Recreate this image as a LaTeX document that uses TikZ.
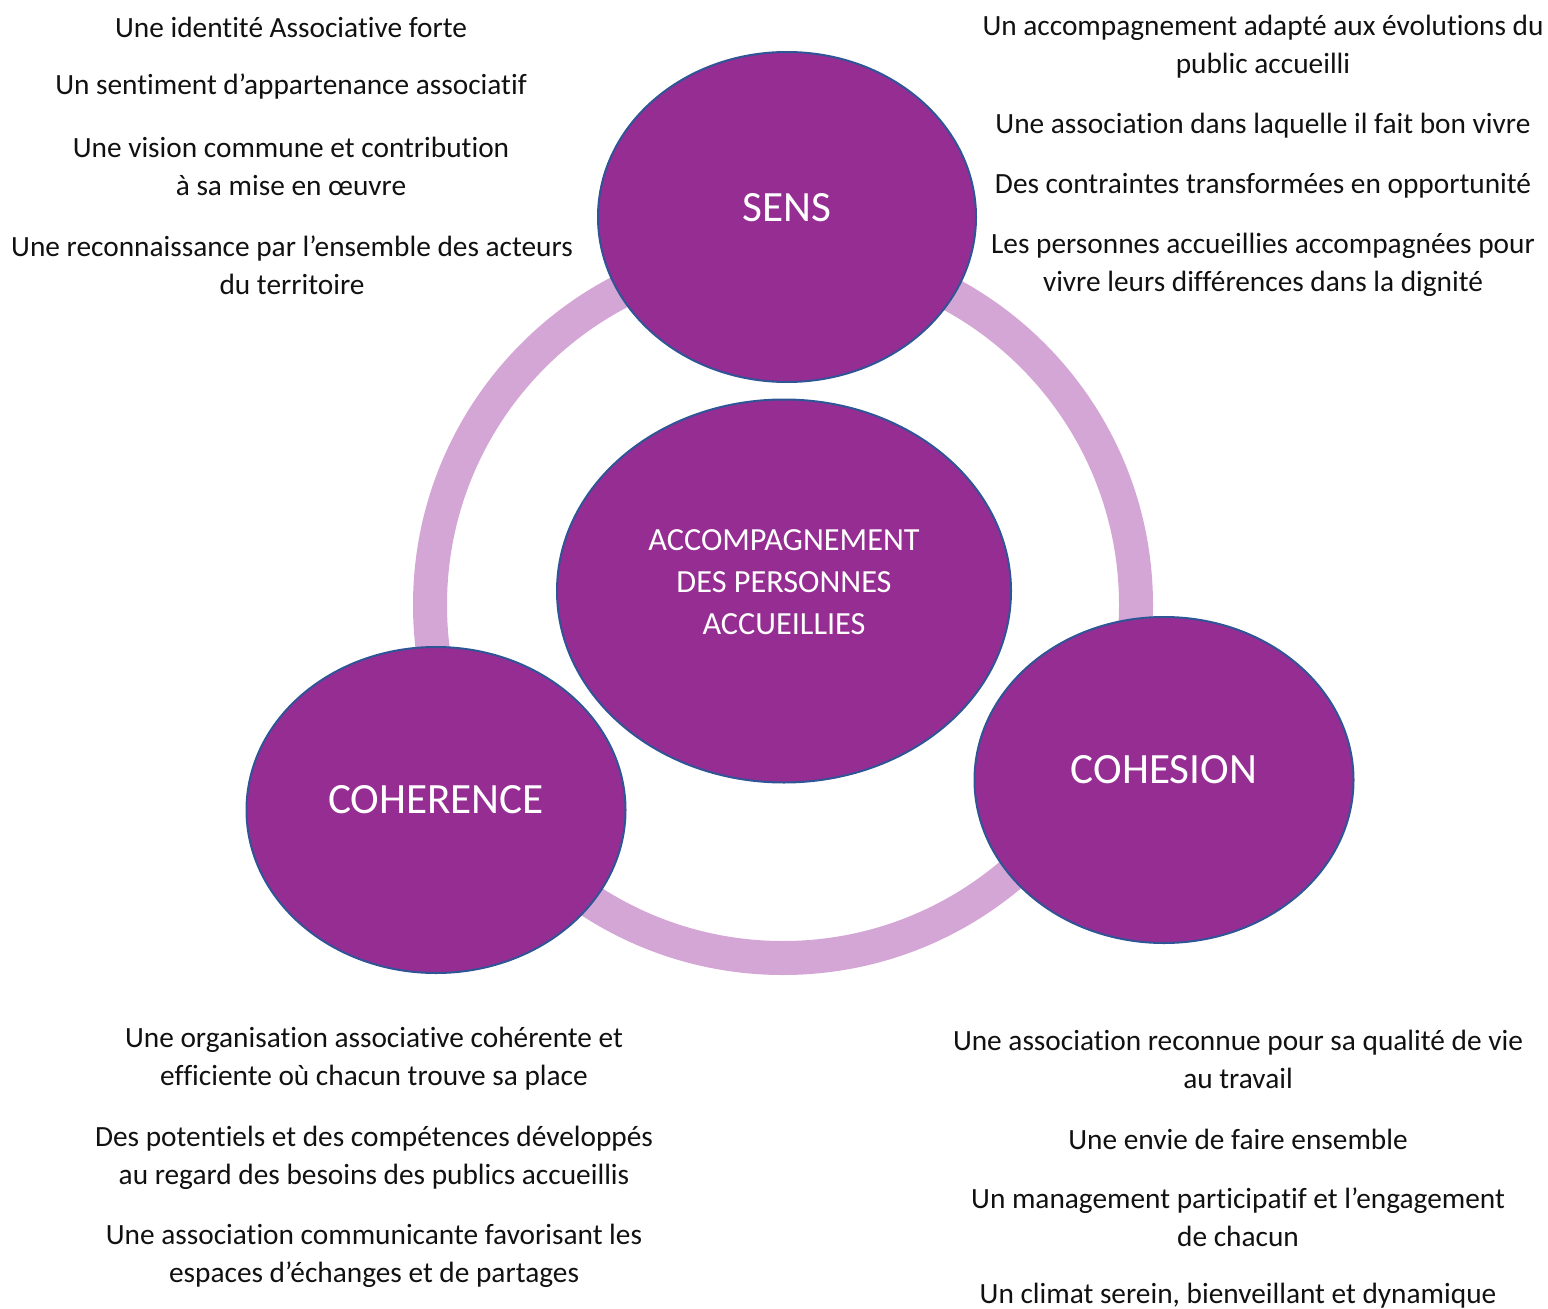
\documentclass[tikz,border=0pt]{standalone}
\usepackage{fontspec}
\setmainfont{Carlito}[Ligatures=NoCommon]
\usetikzlibrary{shapes.geometric}
\definecolor{pillar}{HTML}{952D93}
\definecolor{rim}{HTML}{2F5597}
\definecolor{ring}{HTML}{D4A6D6}
\definecolor{ink}{HTML}{111111}
\tikzset{
  every node/.style={text=ink},
  goal/.style={align=center,font=\fontsize{11}{14.25}\selectfont,inner sep=0pt},
  pillar/.style={ellipse,fill=pillar,draw=rim,line width=.75pt,inner sep=0pt,
    text=white,font=\fontsize{16.2}{20}\selectfont},
  title/.style={text=white,font=\fontsize{16.2}{20}\selectfont},
  core/.style={pillar,align=center,font=\fontsize{12.1}{15.75}\selectfont},
  loop/.style={draw=ring,line width=12.75pt}
}

\begin{document}
\begin{tikzpicture}[x=.375pt,y=-.375pt]
  \useasboundingbox (0,0) rectangle (1548,1309);
  % Ring linking the three pillars.
  \draw[loop] (783,605) circle (353);

  % Pillars and centre.
  \node[core,minimum width=454*.375pt,minimum height=383*.375pt] (centre) at (784,591) {};
  \node[title,align=center,font=\fontsize{12.1}{15.75}\selectfont] (centrelbl) at (784,582)
    {ACCOMPAGNEMENT\\DES PERSONNES\\ACCUEILLIES};
  \node[pillar,minimum width=378*.375pt,minimum height=330*.375pt] (sens) at (787,217) {};
  \node[title] (senslbl) at (787,208) {SENS};
  \node[pillar,minimum width=379*.375pt,minimum height=326*.375pt] (coherence) at (436,810) {};
  \node[title] (coherencelbl) at (436,800) {COHERENCE};
  \node[pillar,minimum width=379*.375pt,minimum height=326*.375pt] (cohesion) at (1164,780) {};
  \node[title] (cohesionlbl) at (1164,770) {COHESION};

  % Goals for SENS, left.
  \node[goal] (tl1) at (291,27) {Une identité Associative forte};
  \node[goal] (tl2) at (291,87) {Un sentiment d’appartenance associatif};
  \node[goal] (tl3) at (291,166) {Une vision commune et contribution\\à sa mise en œuvre};
  \node[goal] (tl4) at (292,265) {Une reconnaissance par l’ensemble des acteurs\\du territoire};

  % Goals for SENS, right.
  \node[goal] (tr1) at (1263,47) {Un accompagnement adapté aux évolutions du\\public accueilli};
  \node[goal] (tr2) at (1263,126) {Une association dans laquelle il fait bon vivre};
  \node[goal] (tr3) at (1263,186) {Des contraintes transformées en opportunité};
  \node[goal] (tr4) at (1263,265) {Les personnes accueillies accompagnées pour\\vivre leurs différences dans la dignité};

  % Goals for COHERENCE.
  \node[goal] (bl1) at (374,1059) {Une organisation associative cohérente et\\efficiente où chacun trouve sa place};
  \node[goal] (bl2) at (374,1158) {Des potentiels et des compétences développés\\au regard des besoins des publics accueillis};
  \node[goal] (bl3) at (374,1256) {Une association communicante favorisant les\\espaces d’échanges et de partages};

  % Goals for COHESION.
  \node[goal] (br1) at (1238,1059) {Une association reconnue pour sa qualité de vie\\au travail};
  \node[goal] (br2) at (1238,1139) {Une envie de faire ensemble};
  \node[goal] (br3) at (1238,1217) {Un management participatif et l’engagement\\de chacun};
  \node[goal] (br4) at (1238,1296) {Un climat serein, bienveillant et dynamique};
\end{tikzpicture}
\end{document}
